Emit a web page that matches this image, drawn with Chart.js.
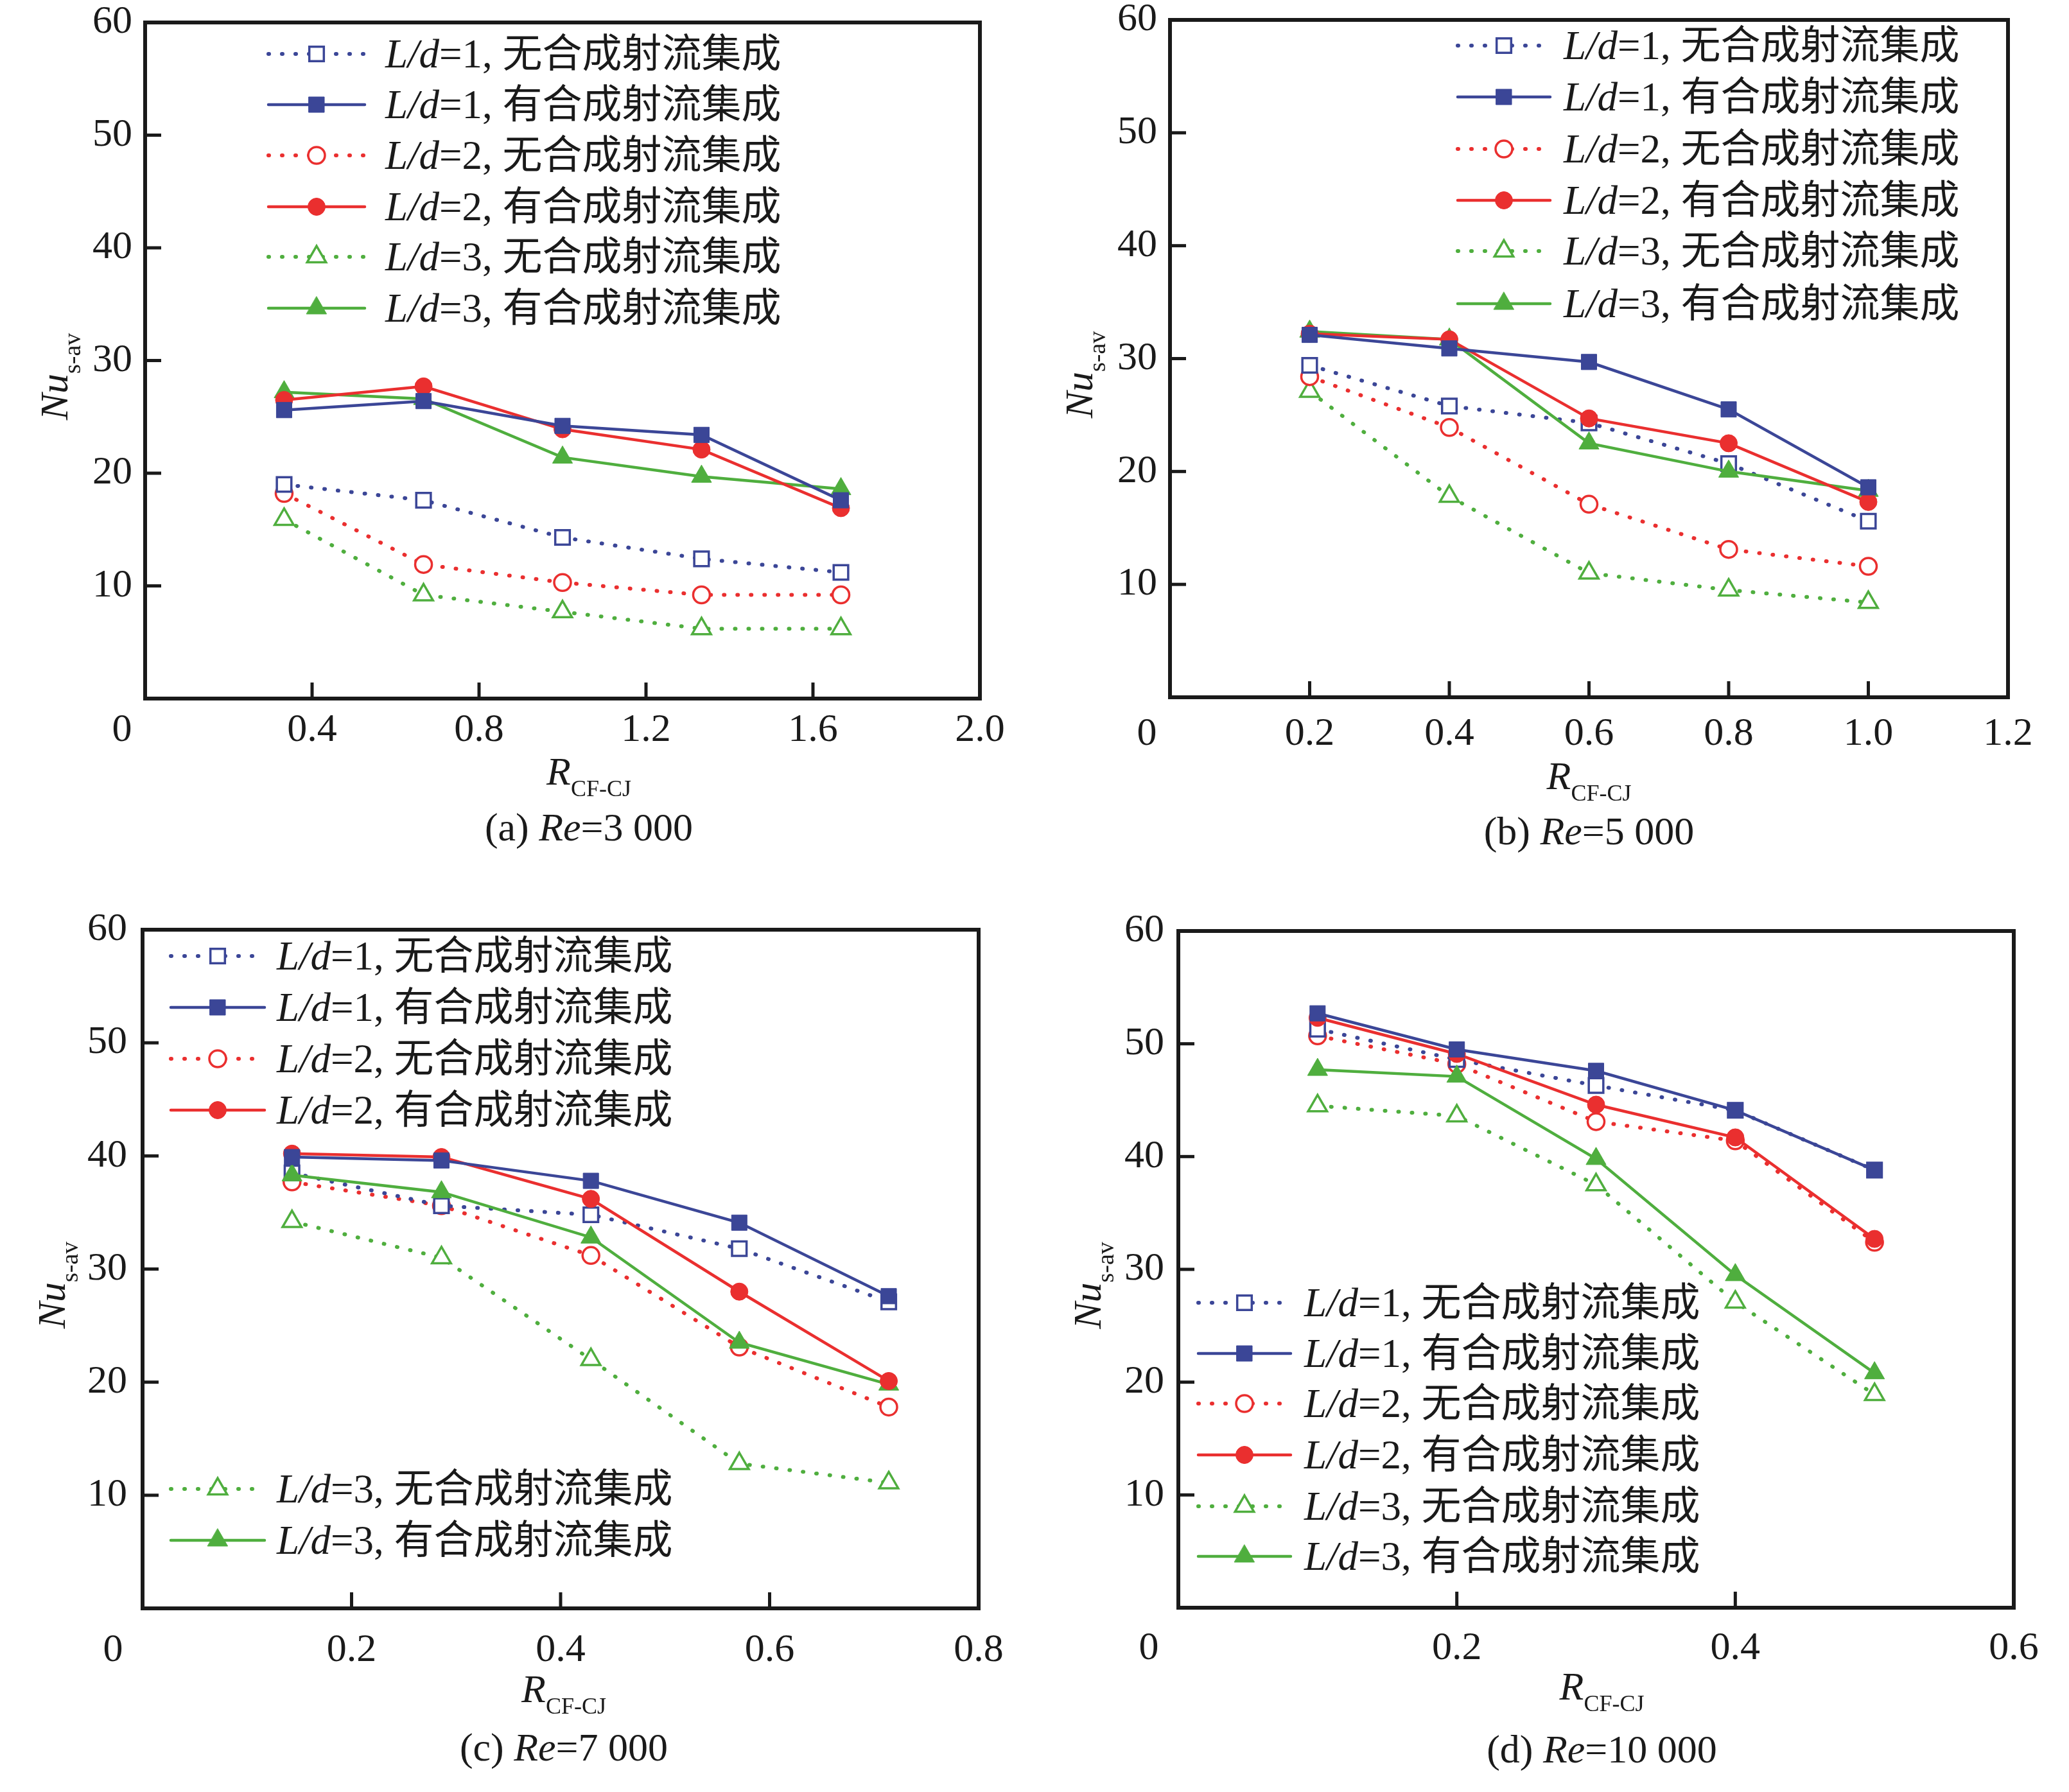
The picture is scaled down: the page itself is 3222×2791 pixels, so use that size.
<!DOCTYPE html>
<html>
<head>
<meta charset="utf-8">
<title>Nu s-av vs R CF-CJ</title>
<script src="https://cdn.jsdelivr.net/npm/chart.js@4.4.1/dist/chart.umd.min.js"></script>
<style>
    body { margin: 0; background: #ffffff; width: 3222px; height: 2791px; position: relative; overflow: hidden; }
    canvas { position: absolute; }
</style>
</head>
<body>
<canvas id="chartA" width="1611" height="1395" style="left:0px;top:0px;width:1611px;height:1395px"></canvas>
<canvas id="chartB" width="1611" height="1395" style="left:1611px;top:0px;width:1611px;height:1395px"></canvas>
<canvas id="chartC" width="1611" height="1396" style="left:0px;top:1395px;width:1611px;height:1396px"></canvas>
<canvas id="chartD" width="1611" height="1396" style="left:1611px;top:1395px;width:1611px;height:1396px"></canvas>
<script>
var seriesLabels = ['L/d=1, 无合成射流集成', 'L/d=1, 有合成射流集成', 'L/d=2, 无合成射流集成',
                    'L/d=2, 有合成射流集成', 'L/d=3, 无合成射流集成', 'L/d=3, 有合成射流集成'];

// (a) Re=3 000
var xA = [0.333, 0.667, 1.0, 1.333, 1.667];
var nuA1none = [19.0, 17.6, 14.3, 12.4, 11.2];
var nuA1syn  = [25.6, 26.4, 24.2, 23.4, 17.6];
var nuA2none = [18.2, 11.9, 10.3, 9.2, 9.2];
var nuA2syn  = [26.5, 27.7, 23.9, 22.1, 16.9];
var nuA3none = [15.9, 9.2, 7.7, 6.2, 6.2];
var nuA3syn  = [27.2, 26.6, 21.4, 19.7, 18.6];

// (b) Re=5 000
var xB = [0.2, 0.4, 0.6, 0.8, 1.0];
var nuB1none = [29.4, 25.8, 24.3, 20.7, 15.6];
var nuB1syn  = [32.1, 30.9, 29.7, 25.5, 18.6];
var nuB2none = [28.4, 23.9, 17.1, 13.1, 11.6];
var nuB2syn  = [32.2, 31.7, 24.7, 22.5, 17.3];
var nuB3none = [27.1, 17.8, 11.0, 9.5, 8.4];
var nuB3syn  = [32.4, 31.7, 22.5, 20.0, 18.3];

// (c) Re=7 000
var xC = [0.143, 0.286, 0.429, 0.571, 0.714];
var nuC1none = [38.5, 35.6, 34.8, 31.8, 27.1];
var nuC1syn  = [39.9, 39.6, 37.8, 34.1, 27.6];
var nuC2none = [37.7, 35.6, 31.2, 23.1, 17.8];
var nuC2syn  = [40.2, 39.9, 36.2, 28.0, 20.1];
var nuC3none = [34.2, 31.0, 22.0, 12.8, 11.1];
var nuC3syn  = [38.3, 36.8, 32.8, 23.5, 19.8];

// (d) Re=10 000
var xD = [0.1, 0.2, 0.3, 0.4, 0.5];
var nuD1none = [51.3, 48.6, 46.3, 44.1, 38.8];
var nuD1syn  = [52.7, 49.5, 47.6, 44.1, 38.8];
var nuD2none = [50.7, 48.2, 43.1, 41.4, 32.4];
var nuD2syn  = [52.3, 49.1, 44.6, 41.7, 32.7];
var nuD3none = [44.5, 43.6, 37.5, 27.1, 18.9];
var nuD3syn  = [47.7, 47.1, 39.8, 29.5, 20.8];

var panelTags = ['(a) ', '(b) ', '(c) ', '(d) '];
var reValues = ['3 000', '5 000', '7 000', '10 000'];
var xAxisMax = [2.0, 1.2, 0.8, 0.6];
var xAxisStep = [0.4, 0.2, 0.2, 0.2];
var yAxisMax = 60;
var yAxisStep = 10;

var ink = '#1a1a1a';
var serif = '"Liberation Serif", "Times New Roman", serif';
var cjk = '"Noto Sans CJK SC", sans-serif';
var blue = '#3b4697', red = '#ea2f2f', green = '#4fae3e';

var seriesStyle = [
    { color: blue,  dash: true,  point: 'rect',     r: 16, open: true },
    { color: blue,  dash: false, point: 'rect',     r: 17, open: false },
    { color: red,   dash: true,  point: 'circle',   r: 13, open: true },
    { color: red,   dash: false, point: 'circle',   r: 13.5, open: false },
    { color: green, dash: true,  point: 'triangle', r: 17, open: true },
    { color: green, dash: false, point: 'triangle', r: 18, open: false }
];

// canvas-local layout of each panel
var panelLayout = [
    { yWidth: 226, padTop: 35, padRight: 85, xHeight: 307, tickPad: 13, yPad: 20, zeroDx: -36,
      capDx: 41, rOff: 134, capOff: 221,
      legendY: [84, 163, 242, 322, 400, 480], sampleX: [418, 568], textX: 600 },
    { yWidth: 211, padTop: 31, padRight: 95, xHeight: 309, tickPad: 21, yPad: 20, zeroDx: -36,
      capDx: 0, rOff: 143, capOff: 229,
      legendY: [71, 151, 232, 312, 391, 473], sampleX: [659, 803], textX: 824 },
    { yWidth: 222, padTop: 53, padRight: 87, xHeight: 286, tickPad: 29, yPad: 24, zeroDx: -46,
      capDx: 5, rOff: 146, capOff: 237,
      legendY: [94, 174, 254, 334, 924, 1004], sampleX: [266, 412], textX: 431 },
    { yWidth: 224, padTop: 55, padRight: 86, xHeight: 287, tickPad: 27, yPad: 22, zeroDx: -46,
      capDx: 9, rOff: 143, capOff: 241,
      legendY: [634, 713, 791, 871, 951, 1029], sampleX: [255, 399], textX: 420 }
];

// draws a row of text pieces with different fonts
function drawRuns(ctx, runs, x, y, align) {
    var total = 0;
    runs.forEach(function (r) {
        ctx.font = r.font;
        r.w = ctx.measureText(r.t).width;
        total += r.w;
    });
    var cx = align === 'center' ? x - total / 2 : x;
    ctx.textAlign = 'left';
    ctx.textBaseline = 'alphabetic';
    runs.forEach(function (r) {
        ctx.font = r.font;
        ctx.fillText(r.t, cx, y + (r.dy || 0));
        cx += r.w;
    });
}

var panelDeco = {
    id: 'panelDeco',
    afterDraw: function (chart, args, o) {
        var ctx = chart.ctx;
        var a = chart.chartArea;
        var sx = chart.scales.x, sy = chart.scales.y;
        ctx.save();

        // frame
        ctx.setLineDash([]);
        ctx.strokeStyle = ink;
        ctx.lineWidth = 6;
        ctx.strokeRect(a.left, a.top, a.right - a.left, a.bottom - a.top);

        // inward tick marks
        ctx.lineWidth = 5;
        ctx.lineCap = 'butt';
        sx.ticks.forEach(function (t) {
            if (t.value <= sx.min + 1e-9 || t.value >= sx.max - 1e-9) return;
            var px = sx.getPixelForValue(t.value);
            ctx.beginPath(); ctx.moveTo(px, a.bottom); ctx.lineTo(px, a.bottom - 25); ctx.stroke();
        });
        sy.ticks.forEach(function (t) {
            if (t.value <= sy.min + 1e-9 || t.value >= sy.max - 1e-9) return;
            var py = sy.getPixelForValue(t.value);
            ctx.beginPath(); ctx.moveTo(a.left, py); ctx.lineTo(a.left + 25, py); ctx.stroke();
        });

        // origin label
        ctx.fillStyle = ink;
        ctx.font = '62px ' + serif;
        ctx.textAlign = 'center';
        ctx.textBaseline = 'middle';
        ctx.fillText('0', a.left + o.zeroDx, a.bottom + o.tickPad + 37.2);

        // y axis title
        ctx.save();
        ctx.translate(a.left - 121, (a.top + a.bottom) / 2 + 25);
        ctx.rotate(-Math.PI / 2);
        drawRuns(ctx, [
            { t: 'Nu', font: 'italic 62px ' + serif },
            { t: 's-av', font: '38px ' + serif, dy: 20 }
        ], 0, 0, 'center');
        ctx.restore();

        // x axis title and caption
        var cx = (a.left + a.right) / 2 + o.capDx;
        drawRuns(ctx, [
            { t: 'R', font: 'italic 62px ' + serif },
            { t: 'CF-CJ', font: '36px ' + serif, dy: 18 }
        ], cx, a.bottom + o.rOff, 'center');
        drawRuns(ctx, [
            { t: o.tag, font: '62px ' + serif },
            { t: 'Re', font: 'italic 62px ' + serif },
            { t: '=' + o.re, font: '62px ' + serif }
        ], cx, a.bottom + o.capOff, 'center');

        // legend
        chart.data.datasets.forEach(function (ds, i) {
            var y = o.legendY[i];
            ctx.setLineDash(ds.borderDash);
            ctx.lineCap = 'round';
            ctx.lineWidth = ds.borderWidth;
            ctx.strokeStyle = ds.borderColor;
            ctx.beginPath(); ctx.moveTo(o.sampleX[0], y); ctx.lineTo(o.sampleX[1], y); ctx.stroke();
            ctx.setLineDash([]);
            ctx.fillStyle = ds.pointBackgroundColor;
            ctx.strokeStyle = ds.pointBorderColor;
            ctx.lineWidth = ds.pointBorderWidth;
            Chart.helpers.drawPoint(ctx, {
                pointStyle: ds.pointStyle, rotation: 0,
                radius: ds.pointRadius, borderWidth: ds.pointBorderWidth
            }, (o.sampleX[0] + o.sampleX[1]) / 2, y);

            var cut = ds.label.indexOf(', ');
            var head = ds.label.slice(0, cut + 2);
            var eq = head.indexOf('=');
            ctx.fillStyle = ink;
            drawRuns(ctx, [
                { t: head.slice(0, eq), font: 'italic 63px ' + serif },
                { t: head.slice(eq), font: '63px ' + serif },
                { t: ds.label.slice(cut + 2), font: '62px ' + cjk }
            ], o.textX, y + 21, 'left');
        });

        ctx.restore();
    }
};

function buildChart(canvasId, k, xs, series) {
    var p = panelLayout[k];
    var datasets = series.map(function (vals, i) {
        var s = seriesStyle[i];
        return {
            label: seriesLabels[i],
            data: xs.map(function (x, j) { return { x: x, y: vals[j] }; }),
            borderColor: s.color,
            borderWidth: s.dash ? 6 : 4.5,
            borderDash: s.dash ? [1, 20] : [],
            borderCapStyle: 'round',
            pointStyle: s.point,
            pointRadius: s.r,
            pointBorderWidth: s.open ? 3.5 : 1,
            pointBorderColor: s.color,
            pointBackgroundColor: s.open ? '#ffffff' : s.color,
            fill: false,
            tension: 0,
            order: s.open ? 1 : 0
        };
    });

    var ctx = document.getElementById(canvasId).getContext('2d');
    return new Chart(ctx, {
        type: 'line',
        data: { datasets: datasets },
        plugins: [panelDeco],
        options: {
            responsive: false,
            animation: false,
            layout: { padding: { left: 0, top: p.padTop, right: p.padRight, bottom: 0 } },
            plugins: {
                legend: { display: false },
                tooltip: { enabled: false },
                panelDeco: {
                    tag: panelTags[k], re: reValues[k], zeroDx: p.zeroDx, tickPad: p.tickPad,
                    capDx: p.capDx, rOff: p.rOff, capOff: p.capOff,
                    legendY: p.legendY, sampleX: p.sampleX, textX: p.textX
                }
            },
            scales: {
                x: {
                    type: 'linear',
                    min: 0,
                    max: xAxisMax[k],
                    grid: { display: false, drawTicks: false },
                    border: { display: false },
                    ticks: {
                        stepSize: xAxisStep[k],
                        padding: p.tickPad,
                        autoSkip: false,
                        maxRotation: 0,
                        color: ink,
                        font: { family: serif, size: 62 },
                        callback: function (v) { return Math.abs(v) < 1e-9 ? '' : v.toFixed(1); }
                    },
                    afterFit: function (scale) {
                        scale.height = p.xHeight;
                        scale.paddingLeft = 0;
                        scale.paddingRight = 0;
                    }
                },
                y: {
                    type: 'linear',
                    min: 0,
                    max: yAxisMax,
                    grid: { display: false, drawTicks: false },
                    border: { display: false },
                    ticks: {
                        stepSize: yAxisStep,
                        padding: p.yPad,
                        color: ink,
                        font: { family: serif, size: 62 },
                        callback: function (v) { return Math.abs(v) < 1e-9 ? '' : v; }
                    },
                    afterFit: function (scale) {
                        scale.width = p.yWidth;
                        scale.paddingTop = 0;
                        scale.paddingBottom = 0;
                    }
                }
            }
        }
    });
}

buildChart('chartA', 0, xA, [nuA1none, nuA1syn, nuA2none, nuA2syn, nuA3none, nuA3syn]);
buildChart('chartB', 1, xB, [nuB1none, nuB1syn, nuB2none, nuB2syn, nuB3none, nuB3syn]);
buildChart('chartC', 2, xC, [nuC1none, nuC1syn, nuC2none, nuC2syn, nuC3none, nuC3syn]);
buildChart('chartD', 3, xD, [nuD1none, nuD1syn, nuD2none, nuD2syn, nuD3none, nuD3syn]);
</script>
</body>
</html>
